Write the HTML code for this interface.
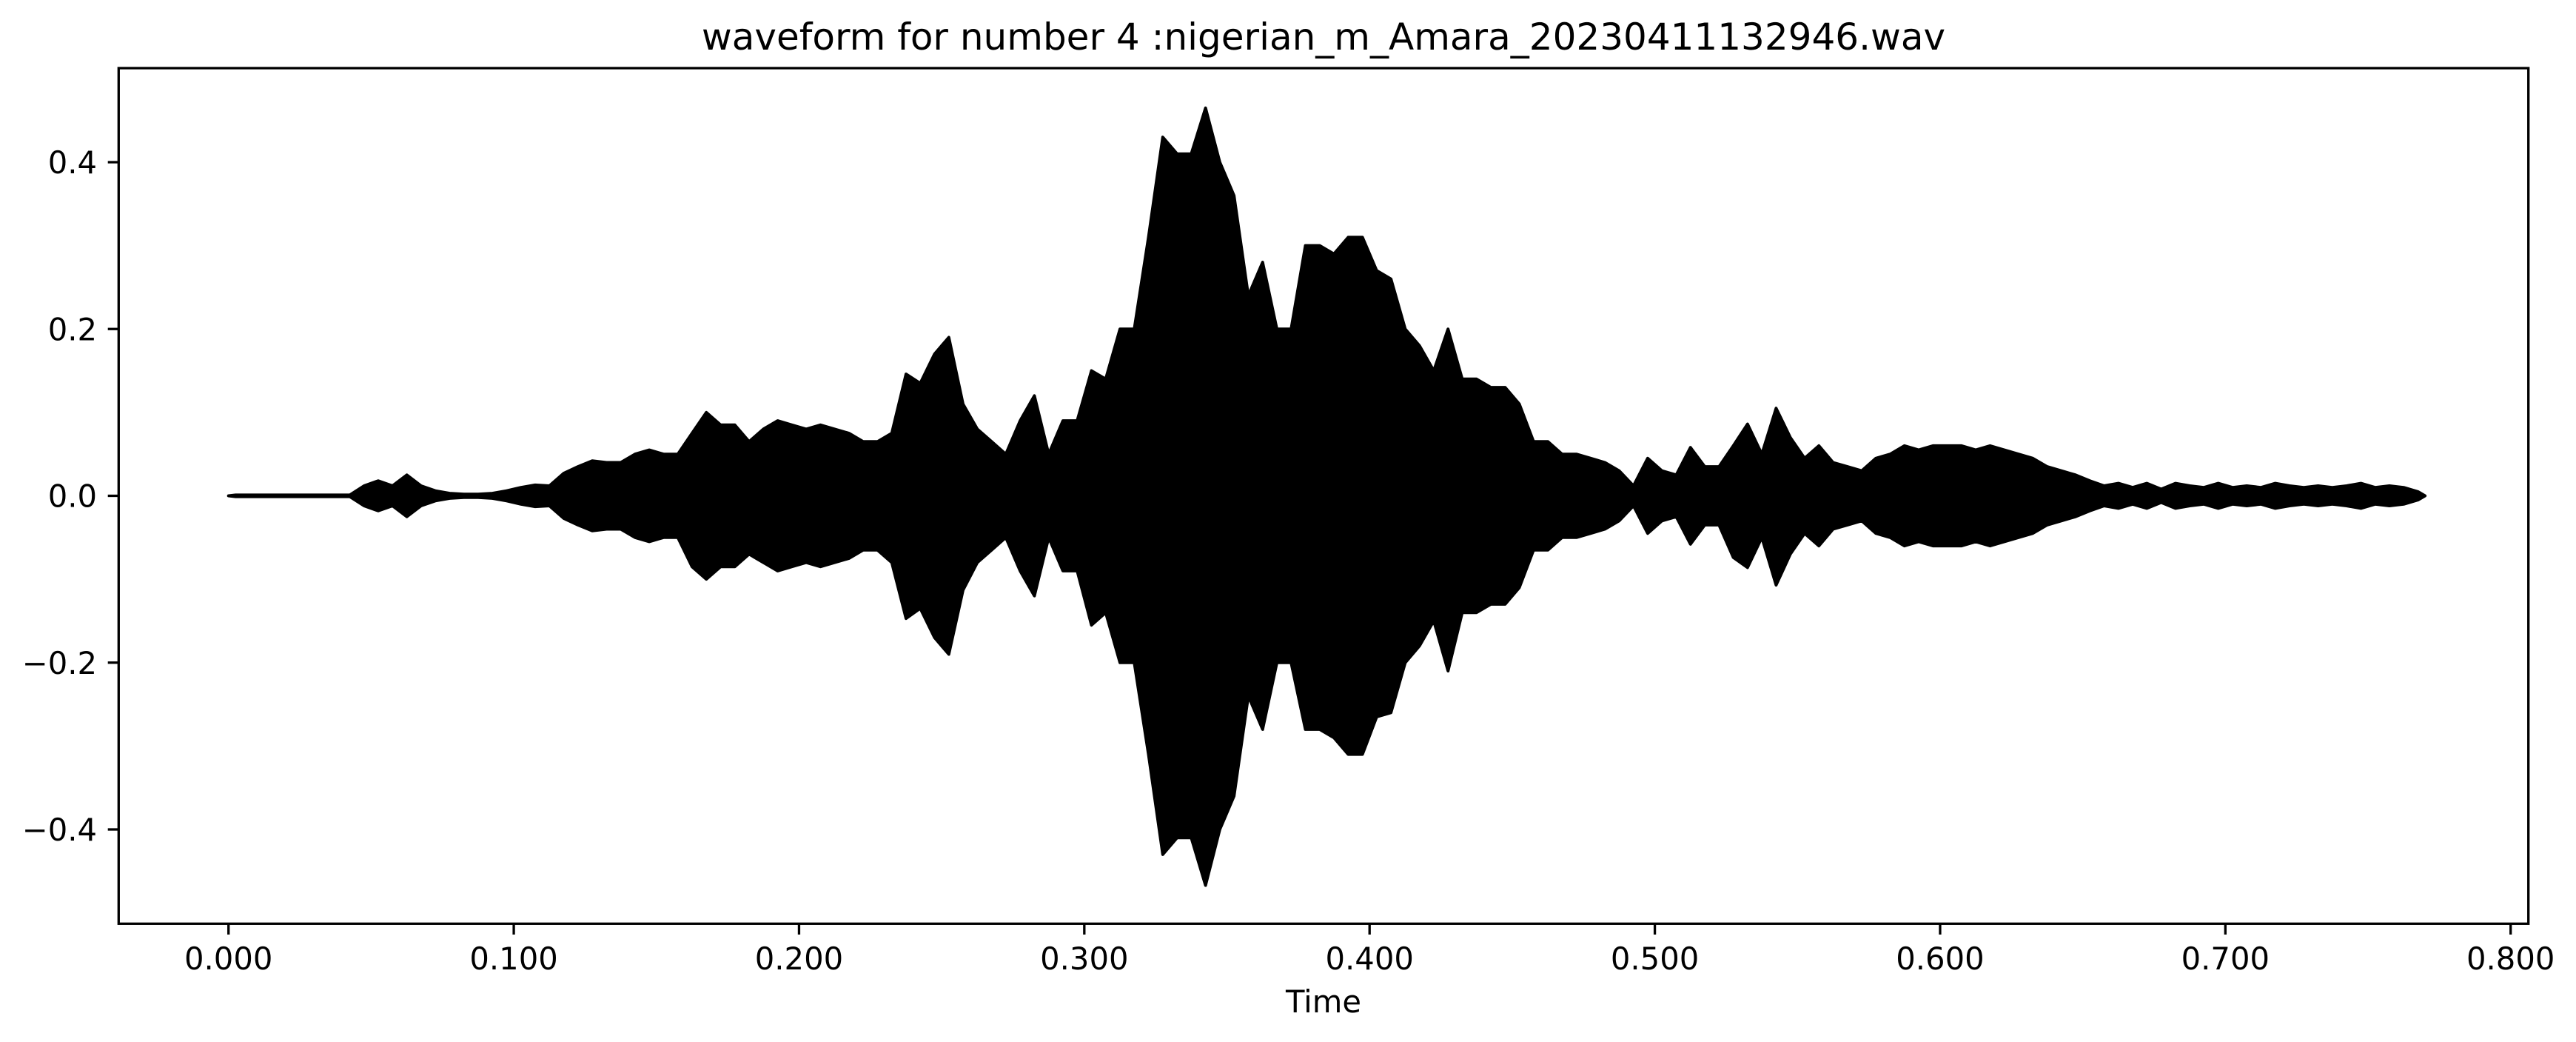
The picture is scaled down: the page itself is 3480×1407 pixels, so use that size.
<!DOCTYPE html>
<html><head><meta charset="utf-8"><style>
html,body{margin:0;padding:0;background:#fff;}
svg{display:block;}
text{font-family:"DejaVu Sans","Liberation Sans",sans-serif;fill:#000;}
</style></head><body>
<svg id="chart" width="3480" height="1407" viewBox="0 0 3480 1407" xmlns="http://www.w3.org/2000/svg">
<rect x="0" y="0" width="3480" height="1407" fill="#fff"/>
<text x="1788" y="67" font-size="50" text-anchor="middle">waveform for number 4 :nigerian_m_Amara_20230411132946.wav</text>
<g id="wave"></g>
<rect x="160.3" y="92" width="3255.4" height="1155.3" fill="none" stroke="#000" stroke-width="3.3"/>
<g id="xticks"></g>
<g id="yticks"></g>
<text x="1788" y="1367" font-size="41.7" text-anchor="middle">Time</text>
</svg>
<script>
const binWidth = 0.005;
const upper = [0.001,0.001,0.001,0.001,0.001,0.001,0.001,0.001,0.001,0.012,
0.018,0.012,0.025,0.012,0.006,0.003,0.002,0.002,0.003,0.006,
0.010,0.013,0.012,0.027,0.035,0.042,0.040,0.040,0.050,0.055,
0.050,0.050,0.075,0.100,0.085,0.085,0.065,0.080,0.090,0.085,
0.080,0.085,0.080,0.075,0.065,0.065,0.075,0.146,0.135,0.170,
0.190,0.110,0.080,0.065,0.050,0.090,0.120,0.050,0.090,0.090,
0.150,0.140,0.200,0.200,0.310,0.430,0.410,0.410,0.465,0.400,
0.360,0.240,0.280,0.200,0.200,0.300,0.300,0.290,0.310,0.310,
0.270,0.260,0.200,0.180,0.150,0.200,0.140,0.140,0.130,0.130,
0.110,0.065,0.065,0.050,0.050,0.045,0.040,0.030,0.012,0.045,
0.030,0.025,0.058,0.035,0.035,0.060,0.086,0.050,0.105,0.070,
0.045,0.060,0.040,0.035,0.030,0.045,0.050,0.060,0.055,0.060,
0.060,0.060,0.055,0.060,0.055,0.050,0.045,0.035,0.030,0.025,
0.018,0.012,0.015,0.010,0.015,0.008,0.015,0.012,0.010,0.015,
0.010,0.012,0.010,0.015,0.012,0.010,0.012,0.010,0.012,0.015,
0.010,0.012,0.010,0.005];
const lower = [-0.001,-0.001,-0.001,-0.001,-0.001,-0.001,-0.001,-0.001,-0.001,-0.012,
-0.018,-0.012,-0.025,-0.012,-0.006,-0.003,-0.002,-0.002,-0.003,-0.006,
-0.010,-0.013,-0.012,-0.027,-0.035,-0.042,-0.040,-0.040,-0.050,-0.055,
-0.050,-0.050,-0.085,-0.100,-0.085,-0.085,-0.070,-0.080,-0.090,-0.085,
-0.080,-0.085,-0.080,-0.075,-0.065,-0.065,-0.080,-0.147,-0.135,-0.170,
-0.190,-0.113,-0.080,-0.065,-0.050,-0.090,-0.120,-0.050,-0.090,-0.090,
-0.155,-0.140,-0.200,-0.200,-0.310,-0.430,-0.410,-0.410,-0.467,-0.400,
-0.360,-0.240,-0.280,-0.200,-0.200,-0.280,-0.280,-0.290,-0.310,-0.310,
-0.265,-0.260,-0.200,-0.180,-0.150,-0.210,-0.140,-0.140,-0.130,-0.130,
-0.110,-0.065,-0.065,-0.050,-0.050,-0.045,-0.040,-0.030,-0.012,-0.045,
-0.030,-0.025,-0.058,-0.035,-0.035,-0.074,-0.086,-0.050,-0.107,-0.070,
-0.045,-0.060,-0.040,-0.035,-0.030,-0.045,-0.050,-0.060,-0.055,-0.060,
-0.060,-0.060,-0.055,-0.060,-0.055,-0.050,-0.045,-0.035,-0.030,-0.025,
-0.018,-0.012,-0.015,-0.010,-0.015,-0.008,-0.015,-0.012,-0.010,-0.015,
-0.010,-0.012,-0.010,-0.015,-0.012,-0.010,-0.012,-0.010,-0.012,-0.015,
-0.010,-0.012,-0.010,-0.005];
const xTickValues = [0,0.1,0.2,0.3,0.4,0.5,0.6,0.7,0.8];
const xTickLabels = ["0.000","0.100","0.200","0.300","0.400","0.500","0.600","0.700","0.800"];
const yTickValues = [0.4,0.2,0,-0.2,-0.4];
const yTickLabels = ["0.4","0.2","0.0","\u22120.2","\u22120.4"];

const NS = "http://www.w3.org/2000/svg";
function xScale(t){ return 308.7 + t*3853.75; }
function yScale(v){ return 669.5 - v*1126.25; }

const wave = document.getElementById('wave');
let d = "M" + xScale(0).toFixed(1) + "," + yScale(0).toFixed(1);
for (let i=0;i<upper.length;i++){
  d += " L" + xScale((i+0.5)*binWidth).toFixed(1) + "," + yScale(upper[i]).toFixed(1);
}
const tEnd = upper.length*binWidth;
d += " L" + xScale(tEnd).toFixed(1) + "," + yScale(0).toFixed(1);
for (let i=lower.length-1;i>=0;i--){
  d += " L" + xScale((i+0.5)*binWidth).toFixed(1) + "," + yScale(lower[i]).toFixed(1);
}
d += " Z";
const p = document.createElementNS(NS,'path');
p.setAttribute('d', d);
p.setAttribute('fill', '#000');
p.setAttribute('stroke', '#000');
p.setAttribute('stroke-width', '4');
p.setAttribute('stroke-linejoin', 'round');


wave.appendChild(p);

const xg = document.getElementById('xticks');
xTickValues.forEach((v,i)=>{
  const x = xScale(v);
  const l = document.createElementNS(NS,'line');
  l.setAttribute('x1',x); l.setAttribute('x2',x);
  l.setAttribute('y1',1247.3); l.setAttribute('y2',1261.9);
  l.setAttribute('stroke','#000'); l.setAttribute('stroke-width','3.3');
  
  
  xg.appendChild(l);
  const t = document.createElementNS(NS,'text');
  t.setAttribute('x',x); t.setAttribute('y',1309);
  t.setAttribute('font-size','41.7'); t.setAttribute('text-anchor','middle');
  t.textContent = xTickLabels[i];
  
  
  xg.appendChild(t);
});
const yg = document.getElementById('yticks');
yTickValues.forEach((v,i)=>{
  const y = yScale(v);
  const l = document.createElementNS(NS,'line');
  l.setAttribute('x1',145.7); l.setAttribute('x2',160.3);
  l.setAttribute('y1',y); l.setAttribute('y2',y);
  l.setAttribute('stroke','#000'); l.setAttribute('stroke-width','3.3');
  
  
  yg.appendChild(l);
  const t = document.createElementNS(NS,'text');
  t.setAttribute('x',131); t.setAttribute('y',y+15);
  t.setAttribute('font-size','41.7'); t.setAttribute('text-anchor','end');
  t.textContent = yTickLabels[i];
  
  
  yg.appendChild(t);
});
</script>
</body></html>
